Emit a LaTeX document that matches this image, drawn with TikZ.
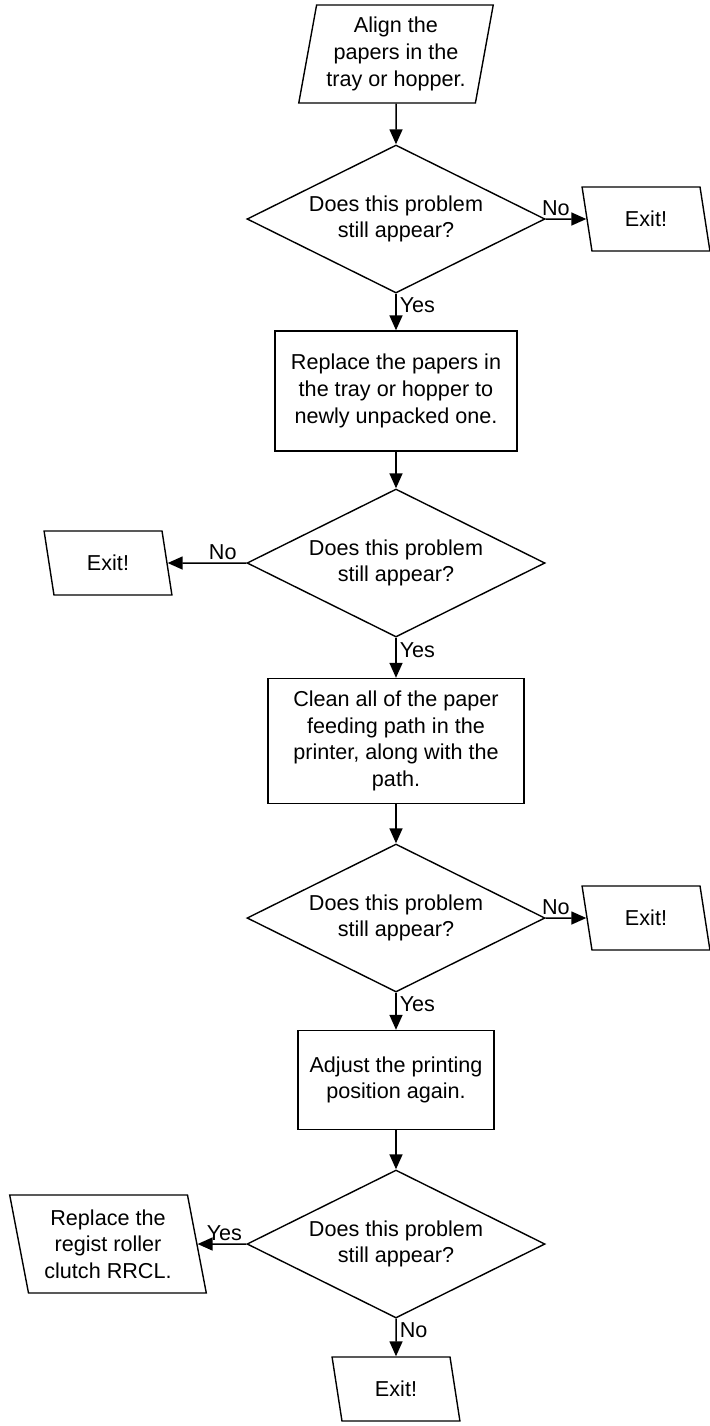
\documentclass[tikz,border=0pt]{standalone}
\usepackage{fontspec}
\setmainfont{Liberation Sans}
\usetikzlibrary{shapes.geometric,arrows.meta}

\begin{document}
\begin{tikzpicture}[x=0.5pt, y=-0.5pt,
    every node/.style={font=\fontsize{10.8}{13.3}\selectfont},
    flow/.style={draw, line width=0.75pt, -{Triangle[length=7.5pt,width=6.5pt]}},
    box/.style={draw, line width=0.7pt, align=center, inner sep=2pt},
    query/.style={draw, line width=0.7pt, diamond, aspect=2, align=center, inner sep=1pt,
        minimum width=149pt, minimum height=74pt},
    datain/.style={draw, line width=0.7pt, trapezium, trapezium stretches=true, align=center,
        inner sep=2pt, trapezium left angle=78.5, trapezium right angle=101.5},
    dataout/.style={draw, line width=0.7pt, trapezium, trapezium stretches=true, align=center,
        inner sep=1pt, trapezium left angle=102, trapezium right angle=78},
    exitbox/.style={dataout, minimum width=64pt, minimum height=32pt},
    tag/.style={inner sep=1.5pt}
]
    \useasboundingbox (0,0) rectangle (710,1426);

    % Main column
    \node[datain, minimum width=98pt, minimum height=49pt] (align) at (396,54) {Align the\\papers in the\\tray or hopper.};
    \node[query] (q1) at (396,219) {Does this problem\\still appear?};
    \node[box, minimum width=121pt, minimum height=60pt] (swap) at (396,391) {Replace the papers in\\the tray or hopper to\\newly unpacked one.};
    \node[query] (q2) at (396,563) {Does this problem\\still appear?};
    \node[box, minimum width=128pt, minimum height=62.5pt] (clean) at (396,741) {Clean all of the paper\\feeding path in the\\printer, along with the\\path.};
    \node[query] (q3) at (396,918) {Does this problem\\still appear?};
    \node[box, minimum width=98pt, minimum height=49.5pt] (adjust) at (396,1080) {Adjust the printing\\position again.};
    \node[query] (q4) at (396,1244) {Does this problem\\still appear?};
    \node[exitbox] (x4) at (396,1389) {Exit!};

    % Side exits
    \node[exitbox] (x1) at (646,219) {Exit!};
    \node[exitbox] (x2) at (108,563) {Exit!};
    \node[exitbox] (x3) at (646,918) {Exit!};
    \node[dataout, minimum width=98.5pt, minimum height=49pt] (regist) at (108,1244) {Replace the\\regist roller\\clutch RRCL.};

    % Connectors
    \draw[flow] (align) -- (q1);
    \draw[flow] (q1) -- node[tag, right, pos=0.3] {Yes} (swap);
    \draw[flow] (q1.east) -- node[tag, above, pos=0.25] {No} (x1);
    \draw[flow] (swap) -- (q2);
    \draw[flow] (q2.west) -- node[tag, above, pos=0.3] {No} (x2);
    \draw[flow] (q2) -- node[tag, right, pos=0.3] {Yes} (clean);
    \draw[flow] (clean) -- (q3);
    \draw[flow] (q3.east) -- node[tag, above, pos=0.25] {No} (x3);
    \draw[flow] (q3) -- node[tag, right, pos=0.3] {Yes} (adjust);
    \draw[flow] (adjust) -- (q4);
    \draw[flow] (q4.west) -- node[tag, above, pos=0.45] {Yes} (regist);
    \draw[flow] (q4) -- node[tag, right, pos=0.3] {No} (x4);
\end{tikzpicture}
\end{document}
